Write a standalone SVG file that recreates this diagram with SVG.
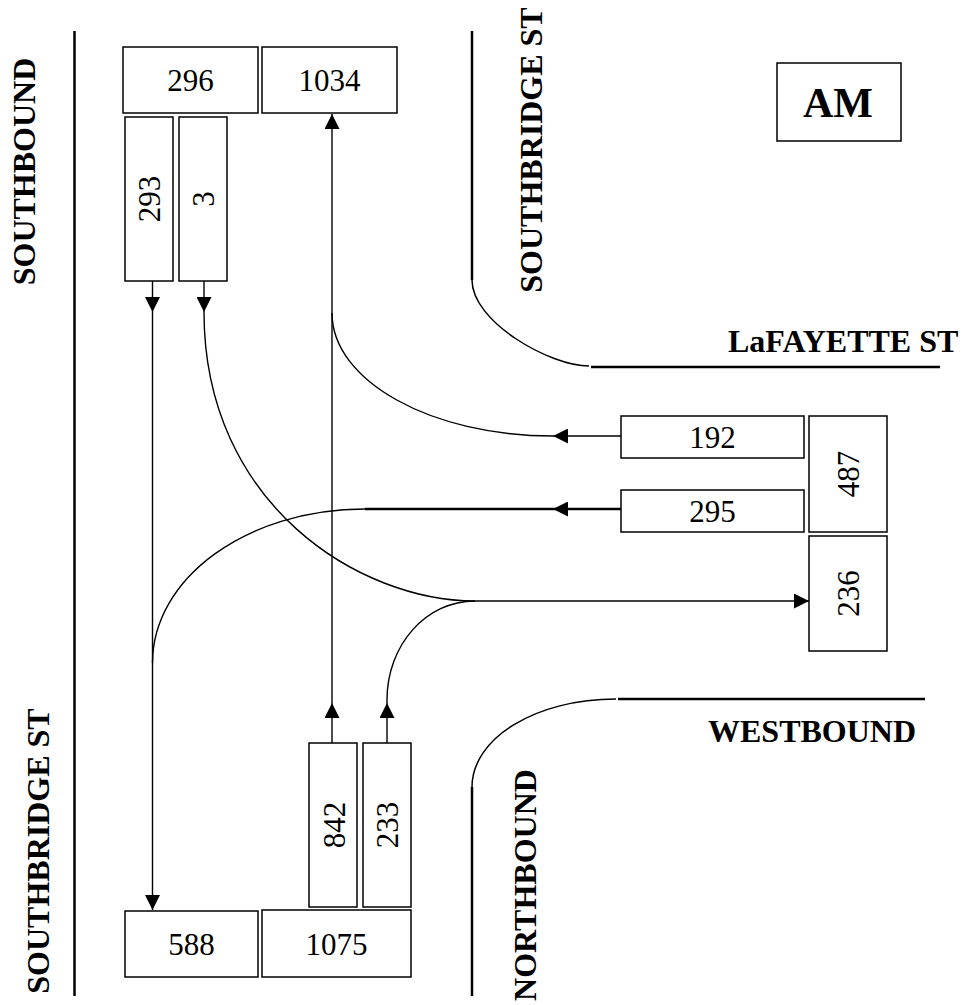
<svg xmlns="http://www.w3.org/2000/svg" width="966" height="1005" viewBox="0 0 966 1005">
  <style>
    .box { fill: #ffffff; stroke: #000000; stroke-width: 1.5; }
    text { font-family: 'Liberation Serif', Tinos, 'Times New Roman', Times, 'Noto Serif', 'DejaVu Serif', FreeSerif, serif; fill: #000000; }
    .num { font-size: 31px; text-anchor: middle; }
    .lbl { font-size: 32px; font-weight: bold; }
    .street { fill: none; stroke: #000000; stroke-width: 2.5; }
    .corner { fill: none; stroke: #000000; stroke-width: 1.5; }
    .flow { fill: none; stroke: #000000; stroke-width: 1.4; }
    .flowthick { fill: none; stroke: #000000; stroke-width: 2.6; }
  </style>
  <defs>
    <marker id="arrow" markerUnits="userSpaceOnUse" markerWidth="15" markerHeight="15" refX="15" refY="7.5" orient="auto">
      <path d="M0,0 L15,7.5 L0,15 z" fill="#000000"/>
    </marker>
  </defs>
  <rect width="966" height="1005" fill="#ffffff"/>

  <g id="streets">
    <line class="street" x1="74.5" y1="31" x2="74.5" y2="996"/>
    <line class="street" x1="472" y1="31" x2="472" y2="280"/>
    <path class="corner" d="M472,280 C472,322 550,366 589,366"/>
    <line class="street" x1="591" y1="367" x2="940" y2="367"/>
    <line class="street" x1="618" y1="699" x2="925" y2="699"/>
    <path class="corner" d="M472,787 C472,738 536,699 616,699"/>
    <line class="street" x1="472" y1="787" x2="472" y2="996"/>
  </g>

  <g id="street-labels">
    <text class="lbl" text-anchor="middle" transform="translate(35,171.5) rotate(-90)">SOUTHBOUND</text>
    <text class="lbl" text-anchor="middle" transform="translate(542,150) rotate(-90)">SOUTHBRIDGE ST</text>
    <text class="lbl" text-anchor="middle" transform="translate(49,851) rotate(-90)">SOUTHBRIDGE ST</text>
    <text class="lbl" text-anchor="middle" transform="translate(536,885) rotate(-90)">NORTHBOUND</text>
    <text class="lbl" x="728" y="352">LaFAYETTE ST</text>
    <text class="lbl" x="708" y="742">WESTBOUND</text>
  </g>

  <g id="am">
    <rect class="box" x="777" y="63" width="124" height="78"/>
    <text class="lbl" x="838" y="117" text-anchor="middle" style="font-size:42px">AM</text>
  </g>

  <g id="connectors">
    <line class="flow" x1="152.5" y1="281" x2="152.5" y2="312" marker-end="url(#arrow)"/>
    <line class="flow" x1="152.5" y1="312" x2="152.5" y2="910" marker-end="url(#arrow)"/>
    <line class="flow" x1="204" y1="281" x2="204" y2="312" marker-end="url(#arrow)"/>
    <path class="flow" d="M204,312 C204,505 360,601 475,601"/>
    <line class="flow" x1="475" y1="601" x2="809" y2="601" marker-end="url(#arrow)"/>
    <line class="flow" x1="332" y1="743" x2="332" y2="703" marker-end="url(#arrow)"/>
    <line class="flow" x1="332" y1="703" x2="332" y2="114" marker-end="url(#arrow)"/>
    <line class="flow" x1="387" y1="743" x2="387" y2="703" marker-end="url(#arrow)"/>
    <path class="flow" d="M387,703 L387,700 C387,645 426,601 475,601"/>
    <line class="flow" x1="621" y1="436" x2="553" y2="436" marker-end="url(#arrow)"/>
    <path class="flow" d="M553,436 C431,436 332,381 332,313"/>
    <line class="flowthick" x1="621" y1="509" x2="553" y2="509" marker-end="url(#arrow)"/>
    <line class="flowthick" x1="553" y1="509" x2="365" y2="509"/>
    <path class="flow" d="M365,509 C247,509 152.5,578 152.5,663"/>
  </g>

  <g id="n296"><rect class="box" x="123" y="47" width="135" height="66"/><text class="num" x="190.5" y="91">296</text></g>
  <g id="n1034"><rect class="box" x="262" y="47" width="135" height="66"/><text class="num" x="329.5" y="91">1034</text></g>
  <g id="n293"><rect class="box" x="125" y="117" width="48" height="164"/><text class="num" transform="translate(160,199) rotate(-90)">293</text></g>
  <g id="n3"><rect class="box" x="179" y="117" width="48" height="164"/><text class="num" transform="translate(214,199) rotate(-90)">3</text></g>
  <g id="n192"><rect class="box" x="621" y="416" width="183" height="42"/><text class="num" x="712.5" y="447.5">192</text></g>
  <g id="n295"><rect class="box" x="621" y="490" width="183" height="42"/><text class="num" x="712.5" y="521.5">295</text></g>
  <g id="n487"><rect class="box" x="809" y="416" width="78" height="116"/><text class="num" transform="translate(859,474) rotate(-90)">487</text></g>
  <g id="n236"><rect class="box" x="809" y="536" width="78" height="115"/><text class="num" transform="translate(859,593.5) rotate(-90)">236</text></g>
  <g id="n842"><rect class="box" x="309" y="743" width="48" height="164"/><text class="num" transform="translate(344.5,825) rotate(-90)">842</text></g>
  <g id="n233"><rect class="box" x="363" y="743" width="48" height="164"/><text class="num" transform="translate(398,825) rotate(-90)">233</text></g>
  <g id="n588"><rect class="box" x="125" y="911" width="133" height="66"/><text class="num" x="191.5" y="955">588</text></g>
  <g id="n1075"><rect class="box" x="262" y="910" width="149" height="67"/><text class="num" x="336.5" y="955">1075</text></g>
</svg>
